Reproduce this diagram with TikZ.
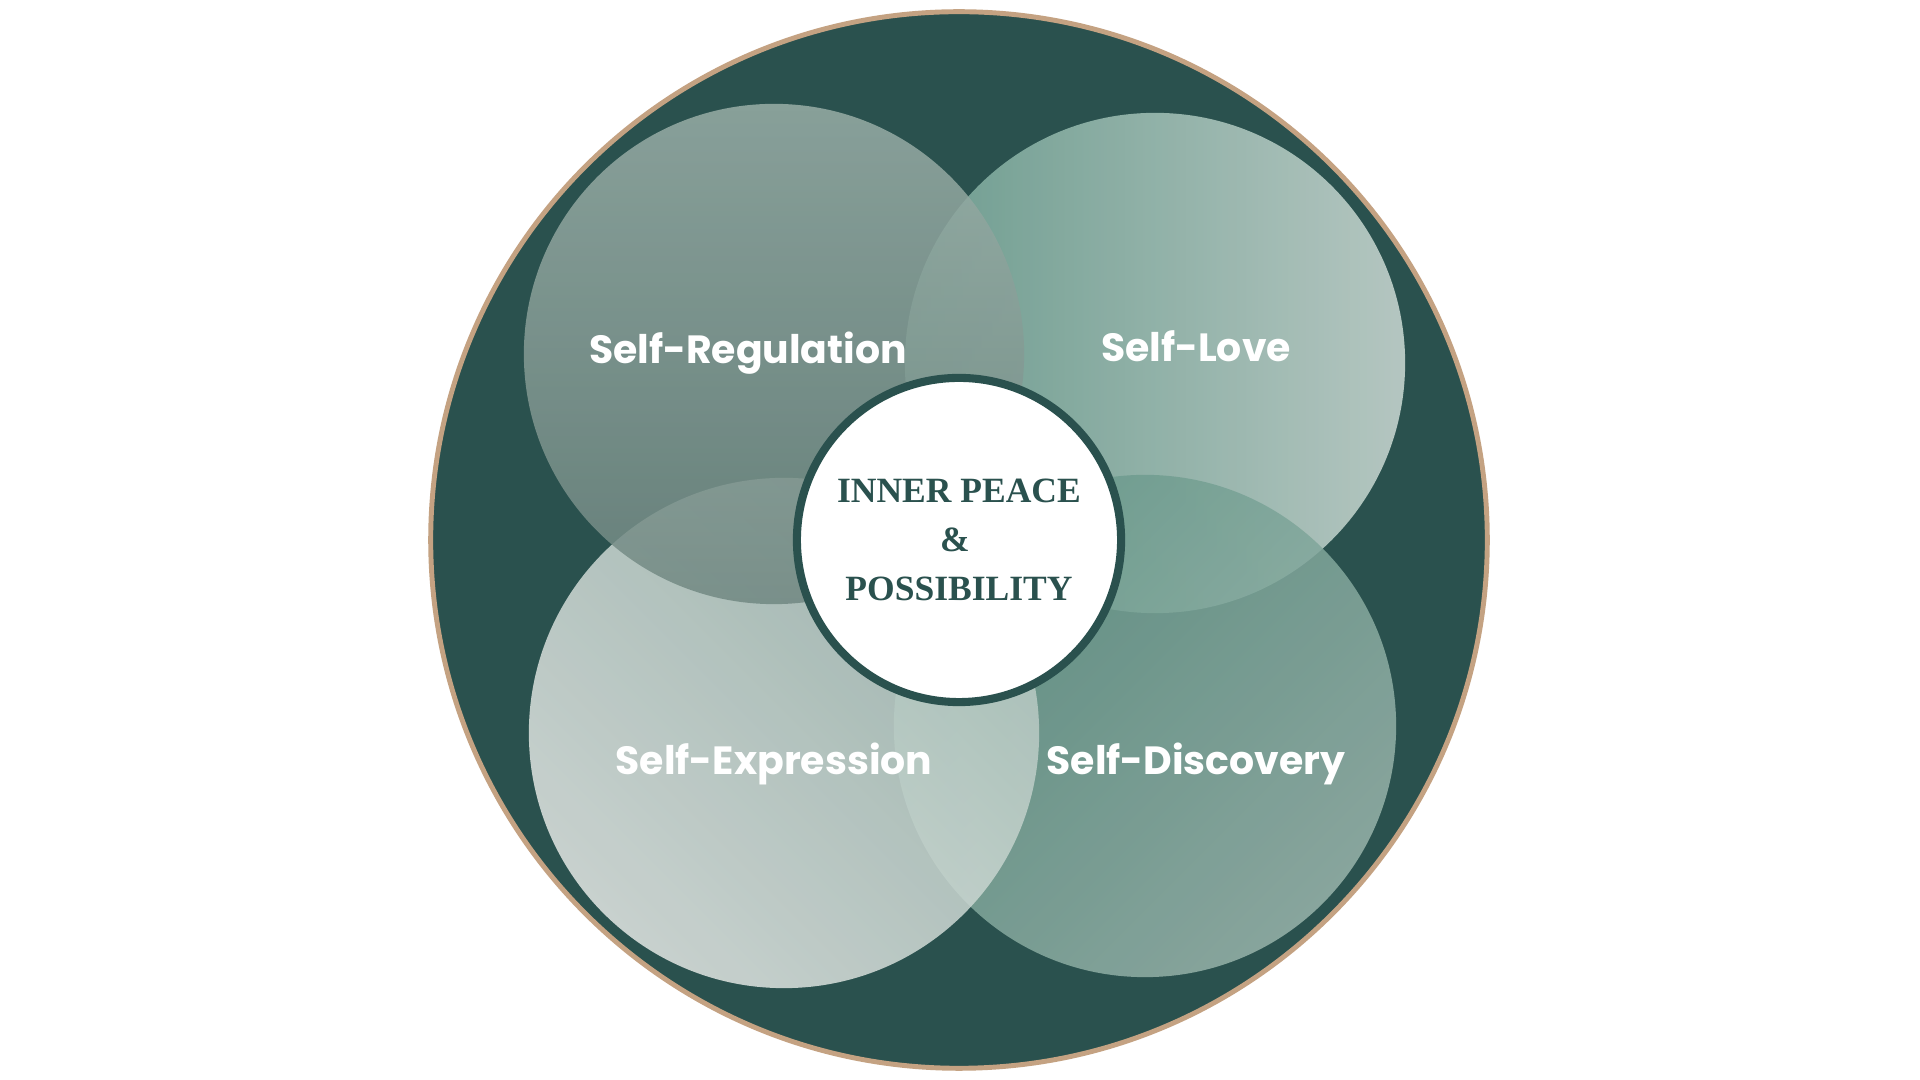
\documentclass[tikz,border=0pt]{standalone}
\usepackage{fontspec}
\setmainfont{Liberation Serif}
\newfontfamily\labelfont{Poppins}
\usetikzlibrary{shadings}
\definecolor{bgdark}{HTML}{2A514E}
\definecolor{tan}{HTML}{C4A282}
\definecolor{regA}{HTML}{99AEA7}
\definecolor{regB}{HTML}{718882}
\definecolor{loveA}{HTML}{7AAA9B}
\definecolor{loveB}{HTML}{CDDBD5}
\definecolor{expA}{HTML}{E4E8E5}
\definecolor{expB}{HTML}{B4C7C0}
\definecolor{discA}{HTML}{69998B}
\definecolor{discB}{HTML}{99B4AB}
\tikzset{
  petal/.style={fill opacity=0.85, draw=none},
  lbl/.style={text=white, font=\labelfont\bfseries\fontsize{11.2}{13}\selectfont, anchor=center},
  ctr/.style={text=bgdark, font=\bfseries\fontsize{10.1}{14}\selectfont, align=center}
}
\begin{document}
\begin{tikzpicture}[x=0.01cm,y=-0.01cm]
\useasboundingbox (0,0) rectangle (1920,1080);
\fill[white] (0,0) rectangle (1920,1080);
% outer disc
\filldraw[fill=bgdark, draw=tan, line width=1.4pt] (959,540) circle[radius=5.28cm];
% petals
\shade[petal, left color=loveA, right color=loveB] (1155,363) circle[radius=2.50cm];
\shade[petal, left color=discA, right color=discB, shading angle=45] (1145,726) circle[radius=2.51cm];
\shade[petal, left color=expA, right color=expB, shading angle=135] (784,733) circle[radius=2.55cm];
\shade[petal, top color=regA, bottom color=regB] (774,354) circle[radius=2.50cm];
% center
\node[circle, fill=white, draw=bgdark, line width=2.3pt, minimum size=3.24cm, inner sep=0pt] (core) at (959,540) {};
\node[ctr] (t1) at (959,491) {INNER PEACE};
\node[ctr] (t2) at (955,540) {\&};
\node[ctr] (t3) at (959,589) {POSSIBILITY};
% labels
\node[lbl] (reg) at (748,353) {Self-Regulation};
\node[lbl] (love) at (1196,346) {Self-Love};
\node[lbl] (exp) at (774,764) {Self-Expression};
\node[lbl] (disc) at (1196,764) {Self-Discovery};
\end{tikzpicture}
\end{document}
